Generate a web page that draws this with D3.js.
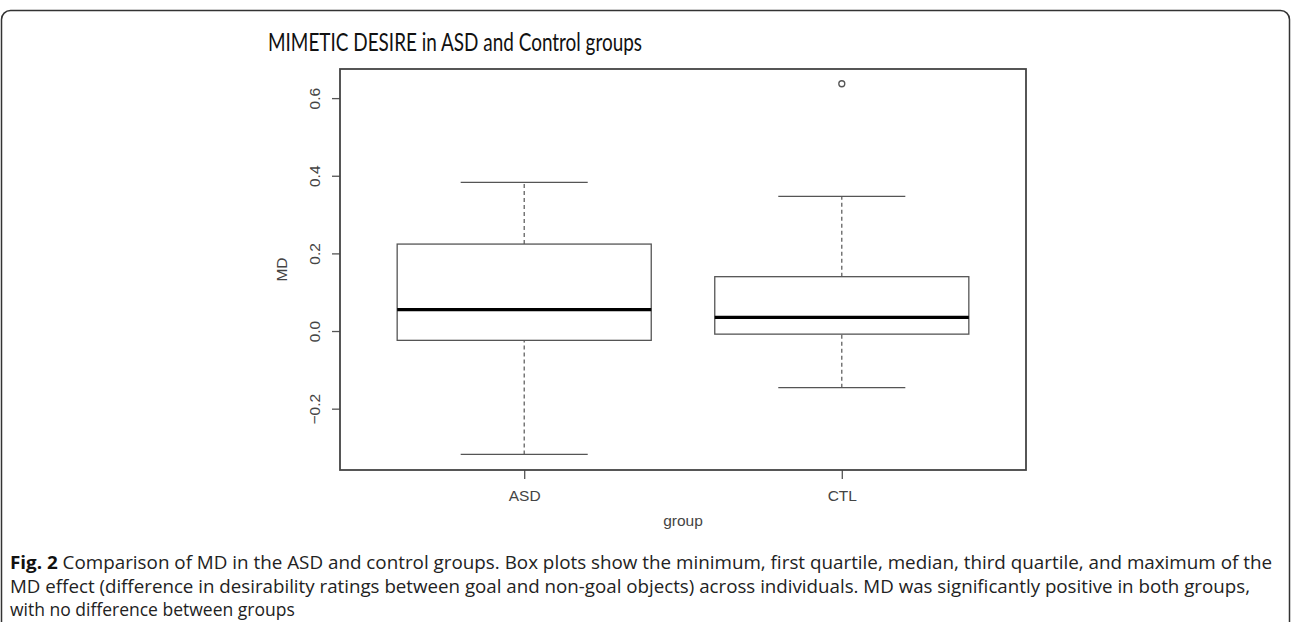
<!DOCTYPE html>
<html>
<head>
<meta charset="utf-8">
<script src="https://cdn.jsdelivr.net/npm/d3@7"></script>
<style>
  body { margin: 0; background: #fff; }
  svg { display: block; }
</style>
</head>
<body>
<svg width="1292" height="622"></svg>
<script>
// Box plot values
const groups = ["ASD", "CTL"];
const mins = [-0.318, -0.146];
const q1s = [-0.024, -0.008];
const medians = [0.055, 0.035];
const q3s = [0.224, 0.140];
const maxs = [0.383, 0.347];
const outliers = [[], [0.637]];
const yTicks = [-0.2, 0.0, 0.2, 0.4, 0.6];

const captionLines = [
  ["Fig. 2", " Comparison of MD in the ASD and control groups. Box plots show the minimum, first quartile, median, third quartile, and maximum of the"],
  ["", "MD effect (difference in desirability ratings between goal and non-goal objects) across individuals. MD was significantly positive in both groups,"],
  ["", "with no difference between groups"]
];

const svg = d3.select("svg");
const plot = { left: 340, right: 1026, top: 69, bottom: 470 };
const axisFont = "'Liberation Sans', Arial, sans-serif";

// figure border (rounded panel)
svg.append("rect")
  .attr("x", 1.5).attr("y", 10.5)
  .attr("width", 1288).attr("height", 660)
  .attr("rx", 9)
  .attr("fill", "none")
  .attr("stroke", "#333")
  .attr("stroke-width", 1.5);

// title
svg.append("text")
  .attr("x", 268).attr("y", 51)
  .attr("font-family", "Lato, 'Open Sans', sans-serif")
  .attr("font-size", 25)
  .attr("textLength", 374)
  .attr("lengthAdjust", "spacingAndGlyphs")
  .attr("fill", "#111")
  .text("MIMETIC DESIRE in ASD and Control groups");

// scales
const x = d3.scalePoint().domain(groups).range([plot.left, plot.right]).padding(0.58);
const y = d3.scaleLinear().domain([-0.358, 0.675]).range([plot.bottom, plot.top]);
const boxW = x.step() * 0.8;
const capW = x.step() * 0.4;

const g = svg.append("g");
const stroke = "#555";

// y axis
const yAxis = svg.append("g")
  .attr("transform", `translate(${plot.left},0)`)
  .call(d3.axisLeft(y).tickValues(yTicks).tickFormat(d3.format(".1f")).tickSize(8).tickPadding(0));
yAxis.select(".domain").remove();
yAxis.selectAll(".tick line").attr("stroke", stroke).attr("stroke-width", 1.3);
yAxis.selectAll(".tick text")
  .attr("x", null)
  .attr("transform", "translate(-25,0) rotate(-90)")
  .attr("text-anchor", "middle")
  .attr("dy", "0.35em")
  .attr("font-family", axisFont)
  .attr("font-size", 15.5)
  .attr("fill", "#444");

// x axis
const xAxis = svg.append("g")
  .attr("transform", `translate(0,${plot.bottom})`)
  .call(d3.axisBottom(x).tickSize(9).tickPadding(11));
xAxis.select(".domain").remove();
xAxis.selectAll(".tick line").attr("stroke", stroke).attr("stroke-width", 1.3);
xAxis.selectAll(".tick text")
  .attr("font-family", axisFont)
  .attr("font-size", 15.5)
  .attr("fill", "#444");

// axis titles
svg.append("text")
  .attr("transform", `translate(287,${(plot.top + plot.bottom) / 2}) rotate(-90)`)
  .attr("text-anchor", "middle")
  .attr("font-family", axisFont)
  .attr("font-size", 15.5)
  .attr("fill", "#444")
  .text("MD");
svg.append("text")
  .attr("x", (plot.left + plot.right) / 2).attr("y", 526)
  .attr("text-anchor", "middle")
  .attr("font-family", axisFont)
  .attr("font-size", 15.5)
  .attr("fill", "#444")
  .text("group");

// boxes
groups.forEach((grp, i) => {
  const cx = x(grp);
  // whiskers
  [[mins[i], q1s[i]], [q3s[i], maxs[i]]].forEach(([a, b]) => {
    g.append("line")
      .attr("x1", cx).attr("x2", cx)
      .attr("y1", y(a)).attr("y2", y(b))
      .attr("stroke", stroke).attr("stroke-width", 1.2)
      .attr("stroke-dasharray", "4,3");
  });
  // caps
  [mins[i], maxs[i]].forEach(v => {
    g.append("line")
      .attr("x1", cx - capW / 2).attr("x2", cx + capW / 2)
      .attr("y1", y(v)).attr("y2", y(v))
      .attr("stroke", stroke).attr("stroke-width", 1.3);
  });
  // box
  g.append("rect")
    .attr("x", cx - boxW / 2).attr("width", boxW)
    .attr("y", y(q3s[i])).attr("height", y(q1s[i]) - y(q3s[i]))
    .attr("fill", "#fff")
    .attr("stroke", stroke).attr("stroke-width", 1.3);
  // median
  g.append("line")
    .attr("x1", cx - boxW / 2).attr("x2", cx + boxW / 2)
    .attr("y1", y(medians[i])).attr("y2", y(medians[i]))
    .attr("stroke", "#000").attr("stroke-width", 3.2);
  // outliers
  outliers[i].forEach(v => {
    g.append("circle")
      .attr("cx", cx).attr("cy", y(v)).attr("r", 3)
      .attr("fill", "none")
      .attr("stroke", stroke).attr("stroke-width", 1.3);
  });
});

// plot frame
svg.append("rect")
  .attr("x", plot.left).attr("y", plot.top)
  .attr("width", plot.right - plot.left).attr("height", plot.bottom - plot.top)
  .attr("fill", "none")
  .attr("stroke", "#444").attr("stroke-width", 1.8);

// caption
const cap = svg.append("g")
  .attr("font-family", "'Open Sans', 'Noto Sans', sans-serif")
  .attr("font-size", 17.5)
  .attr("fill", "#222");
captionLines.forEach((ln, i) => {
  const t = cap.append("text").attr("x", 10).attr("y", 569 + i * 23.5);
  if (i < 2) t.attr("textLength", i === 0 ? 1262 : 1240).attr("lengthAdjust", "spacingAndGlyphs");
  if (ln[0]) t.append("tspan").attr("font-weight", "bold").attr("fill", "#111").text(ln[0]);
  t.append("tspan").text(ln[1]);
});
</script>
</body>
</html>
